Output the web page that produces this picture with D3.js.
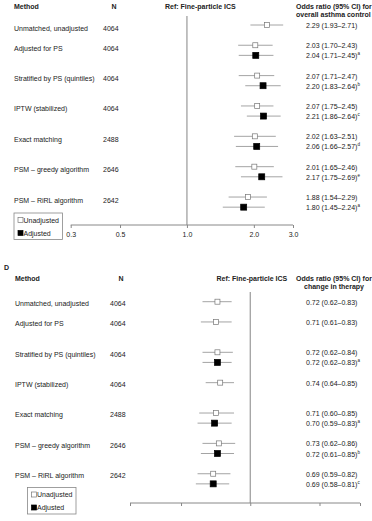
<!DOCTYPE html>
<html lang="en">
<head>
<meta charset="utf-8">
<title>Forest plots</title>
<script src="https://cdn.jsdelivr.net/npm/d3@7"></script>
<style>
  body { margin: 0; background: #fff; }
  svg text { font-family: "Liberation Sans", Arial, sans-serif; font-size: 7px; fill: #222; }
  .bold { font-weight: bold; }
</style>
</head>
<body>
<svg width="372" height="521"></svg>
<script>
const methods = ["Unmatched, unadjusted", "Adjusted for PS", "Stratified by PS (quintiles)",
  "IPTW (stabilized)", "Exact matching", "PSM – greedy algorithm", "PSM – RiRL algorithm"];
const nValues = [4064, 4064, 4064, 4064, 2488, 2646, 2642];
const ticks = [0.3, 0.5, 1.0, 2.0, 3.0];

// overall asthma control: [OR, low, high]
const controlUnadj = [[2.29, 1.93, 2.71], [2.03, 1.70, 2.43], [2.07, 1.71, 2.47], [2.07, 1.75, 2.45],
  [2.02, 1.63, 2.51], [2.01, 1.65, 2.46], [1.88, 1.54, 2.29]];
const controlAdj = [null, [2.04, 1.71, 2.45], [2.20, 1.83, 2.64], [2.21, 1.86, 2.64],
  [2.06, 1.66, 2.57], [2.17, 1.75, 2.69], [1.80, 1.45, 2.24]];
const controlNotes = [null, "a", "b", "c", "d", "e", "a"];

// change in therapy
const therapyUnadj = [[0.72, 0.62, 0.83], [0.71, 0.61, 0.83], [0.72, 0.62, 0.84], [0.74, 0.64, 0.85],
  [0.71, 0.60, 0.85], [0.73, 0.62, 0.86], [0.69, 0.59, 0.82]];
const therapyAdj = [null, null, [0.72, 0.62, 0.83], null, [0.70, 0.59, 0.83], [0.72, 0.61, 0.85], [0.69, 0.58, 0.81]];
const therapyNotes = [null, null, "a", null, "a", "b", "c"];

const svg = d3.select("svg");
const f2 = d3.format(".2f");
const slot = i => (i === 0 ? 0 : 3 * i - 1);

function panel(opt) {
  const g = svg.append("g");
  const x = d3.scaleLog().domain([0.3, 3]).range(opt.xRange);
  const y = d3.scaleLinear().domain([0, 1]).range([opt.y0, opt.y0 + 10.12]);

  if (opt.letter) g.append("text").attr("class", "bold").attr("x", 4).attr("y", opt.hy - 11).text(opt.letter);
  g.append("text").attr("class", "bold").attr("x", opt.labelX).attr("y", opt.hy).text("Method");
  g.append("text").attr("class", "bold").attr("x", opt.nX + 11).attr("y", opt.hy)
    .attr("text-anchor", "middle").text("N");
  g.append("text").attr("class", "bold").attr("x", opt.refX).attr("y", opt.hy).text("Ref: Fine-particle ICS");
  const hx = opt.centerHead ? 334 : 296;
  const anchor = opt.centerHead ? "middle" : "start";
  g.append("text").attr("class", "bold").attr("x", hx).attr("y", opt.hy)
    .attr("text-anchor", anchor).text("Odds ratio (95% CI) for");
  g.append("text").attr("class", "bold").attr("x", hx).attr("y", opt.hy + 8)
    .attr("text-anchor", anchor).text(opt.subHead);

  // reference line
  g.append("line").attr("x1", x(1)).attr("x2", x(1))
    .attr("y1", opt.refTop).attr("y2", opt.axisY)
    .attr("stroke", "#999").attr("stroke-width", 1.2);

  // axis
  const axis = d3.axisBottom(x).tickValues(ticks).tickSize(3)
    .tickFormat(opt.tickLabels ? d3.format(".1f") : "");
  const ag = g.append("g").attr("transform", `translate(0,${opt.axisY})`).call(axis);
  ag.select(".domain").attr("stroke", "#888").attr("d", `M${x(0.3)},0H${x(3)}`);
  ag.selectAll(".tick line").attr("stroke", "#888");
  ag.selectAll(".tick text").attr("dy", "0.9em").style("font-size", "7px")
    .style("font-family", "Liberation Sans, Arial, sans-serif").attr("fill", "#222");

  methods.forEach((m, i) => {
    const yu = y(slot(i));
    g.append("text").attr("x", opt.labelX).attr("y", yu + opt.labelDy)
      .attr("dominant-baseline", "central").text(m);
    g.append("text").attr("x", opt.nX).attr("y", yu + opt.labelDy)
      .attr("dominant-baseline", "central").text(nValues[i]);

    const rows = [{ d: opt.unadj[i], y: yu, adj: false }];
    if (opt.adj[i]) rows.push({ d: opt.adj[i], y: y(slot(i) + 1), adj: true, note: opt.notes[i] });
    rows.forEach(r => {
      const [or, lo, hi] = r.d;
      g.append("line").attr("x1", x(lo)).attr("x2", x(hi)).attr("y1", r.y).attr("y2", r.y)
        .attr("stroke", "#9a9a9a").attr("stroke-width", 0.9);
      const s = r.adj ? 6 : 5;
      g.append("rect").attr("x", x(or) - s / 2).attr("y", r.y - s / 2).attr("width", s).attr("height", s)
        .attr("fill", r.adj ? "#000" : "#fff").attr("stroke", r.adj ? "#000" : "#777").attr("stroke-width", 0.7);
      const t = g.append("text").attr("x", 306).attr("y", r.y + 0.5).attr("dominant-baseline", "central")
        .text(`${f2(or)} (${f2(lo)}–${f2(hi)})`);
      if (r.note) t.append("tspan").attr("dy", -2.5).style("font-size", "4.5px").text(r.note);
    });
  });

  // legend
  const [lx, ly] = opt.legend;
  g.append("rect").attr("x", lx).attr("y", ly).attr("width", 48.5).attr("height", 26.5)
    .attr("fill", "none").attr("stroke", "#888").attr("stroke-width", 0.8);
  [["Unadjusted", "#fff", 7], ["Adjusted", "#000", 20]].forEach(([lab, fill, dy]) => {
    g.append("rect").attr("x", lx + 4).attr("y", ly + dy - 2.5).attr("width", 5).attr("height", 5)
      .attr("fill", fill).attr("stroke", fill === "#fff" ? "#777" : "#000").attr("stroke-width", 0.7);
    g.append("text").attr("x", lx + 9.5).attr("y", ly + dy).attr("dominant-baseline", "central").text(lab);
  });
}

panel({
  xRange: [70.7, 293], y0: 25, hy: 9, labelX: 14, nX: 103, refX: 165, subHead: "overall asthma control",
  centerHead: false, refTop: 16, axisY: 225, tickLabels: true, labelDy: 3,
  unadj: controlUnadj, adj: controlAdj, notes: controlNotes, legend: [14, 213]
});
panel({
  xRange: [130, 360], y0: 301.7, hy: 281, labelX: 15, nX: 110, refX: 216.5, subHead: "change in therapy",
  centerHead: true, refTop: 292, axisY: 503, tickLabels: false, labelDy: 1.8, letter: "D",
  unadj: therapyUnadj, adj: therapyAdj, notes: therapyNotes, legend: [27.5, 487.5]
});
</script>
</body>
</html>
